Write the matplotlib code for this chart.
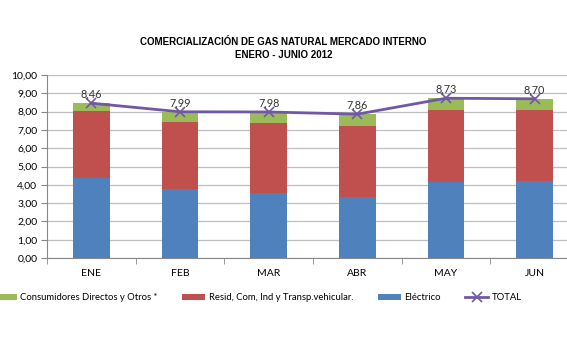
import matplotlib.pyplot as plt
import numpy as np

meses = ['ENE', 'FEB', 'MAR', 'ABR', 'MAY', 'JUN']
electrico = [4.35, 3.75, 3.54, 3.35, 4.17, 4.21]
resid = [3.68, 3.70, 3.84, 3.88, 3.92, 3.88]
total = [8.46, 7.99, 7.98, 7.86, 8.73, 8.70]
directos = [t - e - r for t, e, r in zip(total, electrico, resid)]
yticks = np.arange(0, 11, 1)

c_green = '#9BBB59'
c_red = '#C0504D'
c_blue = '#4F81BD'
c_line = '#7158A6'

plt.rcParams['font.family'] = ['Lato', 'DejaVu Sans']

fig = plt.figure(figsize=(5.67, 3.40), dpi=100)
ax = fig.add_axes([47 / 567, 1 - 258 / 340, 532 / 567, 183 / 340])

x = np.arange(len(meses))
w = 0.41
ax.bar(x, electrico, w, color=c_blue, label='Eléctrico', zorder=2)
ax.bar(x, resid, w, bottom=electrico, color=c_red,
       label='Resid, Com, Ind y Transp.vehicular.', zorder=2)
bot2 = [e + r for e, r in zip(electrico, resid)]
ax.bar(x, directos, w, bottom=bot2, color=c_green,
       label='Consumidores Directos y Otros *', zorder=2)
ax.plot(x, total, color=c_line, lw=2, marker='x', ms=7, mew=1.2,
        label='TOTAL', zorder=3)

for xi, t in zip(x, total):
    ax.text(xi, t + 0.2, f'{t:.2f}'.replace('.', ','), ha='center',
            va='bottom', fontsize=7.8, color='#333333', zorder=4)

ax.set_xlim(-0.5, len(meses) - 0.5)
ax.set_ylim(0, 10)
ax.set_yticks(yticks)
ax.set_yticklabels([f'{v:.2f}'.replace('.', ',') for v in yticks],
                   fontsize=7.5)
ax.set_xticks(x)
ax.set_xticklabels(meses, fontsize=7.5)
ax.set_xticks(np.arange(-0.5, len(meses), 1), minor=True)
ax.tick_params(axis='x', which='major', length=0, pad=8)
ax.tick_params(axis='x', which='minor', length=4, color='#888888')
ax.tick_params(axis='y', length=4, color='#888888', pad=3)
ax.grid(axis='y', color='#BFBFBF', lw=0.9, zorder=0)
for s in ['top', 'right']:
    ax.spines[s].set_visible(False)
for s in ['left', 'bottom']:
    ax.spines[s].set_color('#888888')

fig.text(0.5, 1 - 42 / 340, 'COMERCIALIZACIÓN DE GAS NATURAL MERCADO INTERNO',
         ha='center', va='center', fontsize=7, fontweight='bold',
         family=['Liberation Sans', 'DejaVu Sans'])
fig.text(0.5, 1 - 55 / 340, 'ENERO - JUNIO 2012', ha='center', va='center',
         fontsize=7, fontweight='bold',
         family=['Liberation Sans', 'DejaVu Sans'])

h, l = ax.get_legend_handles_labels()
order = [3, 2, 1, 0]
fig.legend([h[i] for i in order], [l[i] for i in order], ncol=4,
           loc='center', bbox_to_anchor=(0.455, 1 - 298 / 340), frameon=False,
           fontsize=6.8, handlelength=2.4, handleheight=0.5,
           columnspacing=2.6, handletextpad=0.4, borderaxespad=0,
           borderpad=0)

fig.savefig('out.png', dpi=100)
